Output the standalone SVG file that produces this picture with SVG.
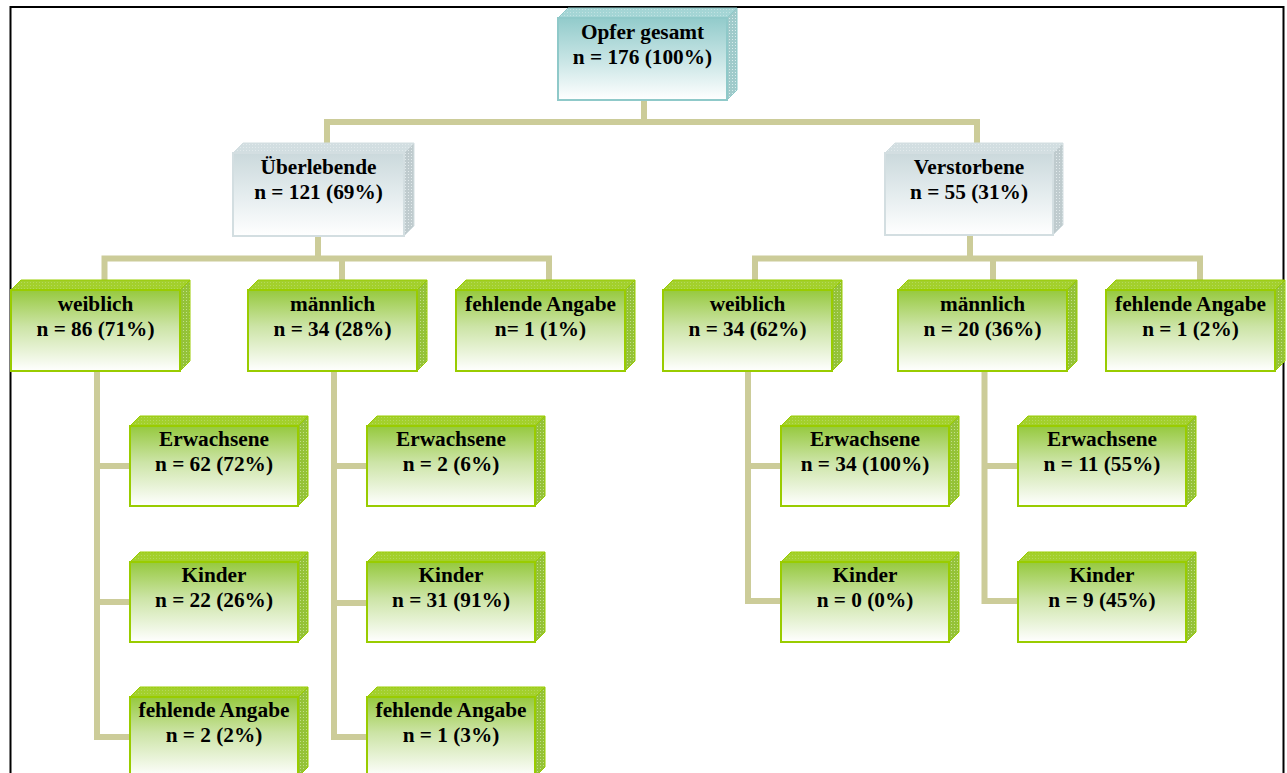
<svg xmlns="http://www.w3.org/2000/svg" width="1287" height="773" viewBox="0 0 1287 773">
<style>
text{font-family:"Liberation Serif","Times New Roman",serif;font-weight:bold;font-size:21.3px;fill:#000;text-anchor:middle}
.con{fill:none;stroke:#cccc99;stroke-width:6;stroke-linejoin:miter;stroke-linecap:butt}
.gF{fill:url(#gG);stroke:#99cc00;stroke-width:2}
.gT{fill:url(#pGT);stroke:#99cc00;stroke-width:1}
.gS{fill:url(#pGS);stroke:#99cc00;stroke-width:1}
.yF{fill:url(#gY);stroke:#d3dee1;stroke-width:2}
.yT{fill:url(#pYT);stroke:#d3dee1;stroke-width:1}
.yS{fill:url(#pYS);stroke:#d3dee1;stroke-width:1}
.tF{fill:url(#gT);stroke:#8fc9c9;stroke-width:2}
.tT{fill:url(#pTT);stroke:#8fc9c9;stroke-width:1}
.tS{fill:url(#pTS);stroke:#8fc9c9;stroke-width:1}
.frame{fill:none;stroke:#000;stroke-width:2}
</style>
<defs>
<linearGradient id="gG" x1="0" y1="0" x2="0" y2="1">
<stop offset="0" stop-color="#96c93e"/><stop offset="0.45" stop-color="#cce4a6"/><stop offset="1" stop-color="#ffffff"/>
</linearGradient>
<linearGradient id="gY" x1="0" y1="0" x2="0" y2="1">
<stop offset="0" stop-color="#cbd9dc"/><stop offset="0.5" stop-color="#e4ecee"/><stop offset="1" stop-color="#ffffff"/>
</linearGradient>
<linearGradient id="gT" x1="0" y1="0" x2="0" y2="1">
<stop offset="0" stop-color="#92cbcb"/><stop offset="0.5" stop-color="#c6e4e4"/><stop offset="1" stop-color="#ffffff"/>
</linearGradient>
<pattern id="pGT" width="3" height="3" patternUnits="userSpaceOnUse"><rect width="3" height="3" fill="#a3d02c"/><rect width="1" height="1" fill="#b4d95a"/></pattern>
<pattern id="pGS" width="3" height="3" patternUnits="userSpaceOnUse"><rect width="3" height="3" fill="#94c238"/><rect width="1" height="1" fill="#c2df88"/></pattern>
<pattern id="pYT" width="3" height="3" patternUnits="userSpaceOnUse"><rect width="3" height="3" fill="#d2dee1"/><rect width="1" height="1" fill="#e2eaec"/></pattern>
<pattern id="pYS" width="3" height="3" patternUnits="userSpaceOnUse"><rect width="3" height="3" fill="#bfcbce"/><rect width="1" height="1" fill="#e2eaec"/></pattern>
<pattern id="pTT" width="3" height="3" patternUnits="userSpaceOnUse"><rect width="3" height="3" fill="#a4d5d5"/><rect width="1" height="1" fill="#c0e2e2"/></pattern>
<pattern id="pTS" width="3" height="3" patternUnits="userSpaceOnUse"><rect width="3" height="3" fill="#9fcaca"/><rect width="1" height="1" fill="#d8ecec"/></pattern>
</defs>
<rect width="1287" height="773" fill="#ffffff"/>
<path class="frame" d="M10.5,773 V7 H1283.5 V773"/>
<g id="connectors">
<path class="con" d="M644,100 V122"/>
<path class="con" d="M327,144 V122 H977 V144"/>
<path class="con" d="M318,236 V258.5"/>
<path class="con" d="M104.5,280 V258.5 H549 V280 M342,258.5 V280"/>
<path class="con" d="M970,236 V258.5"/>
<path class="con" d="M755,280 V258.5 H1200 V280 M993,258.5 V280"/>
<path class="con" d="M97,371 V737 H130 M97,466 H130 M97,602 H130"/>
<path class="con" d="M334,371 V737 H367 M334,466 H367 M334,603 H367"/>
<path class="con" d="M748,371 V601 H781 M748,466 H781"/>
<path class="con" d="M984.5,371 V601 H1018 M984.5,466 H1018"/>
</g>
<g id="n_top">
<polygon class="tT" points="558,18 568,8 737,8 727,18"/>
<polygon class="tS" points="727,18 737,8 737,90 727,100"/>
<rect class="tF" x="558" y="18" width="169" height="82"/>
<text x="642.5" y="39">Opfer gesamt</text><text x="642.5" y="64">n = 176 (100%)</text>
</g>
<g id="n_ueb">
<polygon class="yT" points="233,153 243,143 414,143 404,153"/>
<polygon class="yS" points="404,153 414,143 414,226 404,236"/>
<rect class="yF" x="233" y="153" width="171" height="83"/>
<text x="318.5" y="174">Überlebende</text><text x="318.5" y="199">n = 121 (69%)</text>
</g>
<g id="n_ver">
<polygon class="yT" points="885,153 895,143 1063,143 1053,153"/>
<polygon class="yS" points="1053,153 1063,143 1063,225 1053,235"/>
<rect class="yF" x="885" y="153" width="168" height="82"/>
<text x="969" y="174">Verstorbene</text><text x="969" y="199">n = 55 (31%)</text>
</g>
<g id="n_ueb_w">
<polygon class="gT" points="11,290 21,280 190,280 180,290"/>
<polygon class="gS" points="180,290 190,280 190,361 180,371"/>
<rect class="gF" x="11" y="290" width="169" height="81"/>
<text x="95.5" y="311">weiblich</text><text x="95.5" y="336">n = 86 (71%)</text>
</g>
<g id="n_ueb_m">
<polygon class="gT" points="248,290 258,280 427,280 417,290"/>
<polygon class="gS" points="417,290 427,280 427,361 417,371"/>
<rect class="gF" x="248" y="290" width="169" height="81"/>
<text x="332.5" y="311">männlich</text><text x="332.5" y="336">n = 34 (28%)</text>
</g>
<g id="n_ueb_f">
<polygon class="gT" points="456,290 466,280 635,280 625,290"/>
<polygon class="gS" points="625,290 635,280 635,361 625,371"/>
<rect class="gF" x="456" y="290" width="169" height="81"/>
<text x="540.5" y="311">fehlende Angabe</text><text x="540.5" y="336">n= 1 (1%)</text>
</g>
<g id="n_ver_w">
<polygon class="gT" points="663,290 673,280 842,280 832,290"/>
<polygon class="gS" points="832,290 842,280 842,361 832,371"/>
<rect class="gF" x="663" y="290" width="169" height="81"/>
<text x="747.5" y="311">weiblich</text><text x="747.5" y="336">n = 34 (62%)</text>
</g>
<g id="n_ver_m">
<polygon class="gT" points="898,290 908,280 1077,280 1067,290"/>
<polygon class="gS" points="1067,290 1077,280 1077,361 1067,371"/>
<rect class="gF" x="898" y="290" width="169" height="81"/>
<text x="982.5" y="311">männlich</text><text x="982.5" y="336">n = 20 (36%)</text>
</g>
<g id="n_ver_f">
<polygon class="gT" points="1106,290 1116,280 1285,280 1275,290"/>
<polygon class="gS" points="1275,290 1285,280 1285,361 1275,371"/>
<rect class="gF" x="1106" y="290" width="169" height="81"/>
<text x="1190.5" y="311">fehlende Angabe</text><text x="1190.5" y="336">n = 1 (2%)</text>
</g>
<g id="n_uw_e">
<polygon class="gT" points="130,426 140,416 308,416 298,426"/>
<polygon class="gS" points="298,426 308,416 308,496 298,506"/>
<rect class="gF" x="130" y="426" width="168" height="80"/>
<text x="214" y="446">Erwachsene</text><text x="214" y="471">n = 62 (72%)</text>
</g>
<g id="n_uw_k">
<polygon class="gT" points="130,562 140,552 308,552 298,562"/>
<polygon class="gS" points="298,562 308,552 308,632 298,642"/>
<rect class="gF" x="130" y="562" width="168" height="80"/>
<text x="214" y="582">Kinder</text><text x="214" y="607">n = 22 (26%)</text>
</g>
<g id="n_uw_f">
<polygon class="gT" points="130,697 140,687 308,687 298,697"/>
<polygon class="gS" points="298,697 308,687 308,767 298,777"/>
<rect class="gF" x="130" y="697" width="168" height="80"/>
<text x="214" y="717">fehlende Angabe</text><text x="214" y="742">n = 2 (2%)</text>
</g>
<g id="n_um_e">
<polygon class="gT" points="367,426 377,416 545,416 535,426"/>
<polygon class="gS" points="535,426 545,416 545,496 535,506"/>
<rect class="gF" x="367" y="426" width="168" height="80"/>
<text x="451" y="446">Erwachsene</text><text x="451" y="471">n = 2 (6%)</text>
</g>
<g id="n_um_k">
<polygon class="gT" points="367,562 377,552 545,552 535,562"/>
<polygon class="gS" points="535,562 545,552 545,632 535,642"/>
<rect class="gF" x="367" y="562" width="168" height="80"/>
<text x="451" y="582">Kinder</text><text x="451" y="607">n = 31 (91%)</text>
</g>
<g id="n_um_f">
<polygon class="gT" points="367,697 377,687 545,687 535,697"/>
<polygon class="gS" points="535,697 545,687 545,767 535,777"/>
<rect class="gF" x="367" y="697" width="168" height="80"/>
<text x="451" y="717">fehlende Angabe</text><text x="451" y="742">n = 1 (3%)</text>
</g>
<g id="n_vw_e">
<polygon class="gT" points="781,426 791,416 959,416 949,426"/>
<polygon class="gS" points="949,426 959,416 959,496 949,506"/>
<rect class="gF" x="781" y="426" width="168" height="80"/>
<text x="865" y="446">Erwachsene</text><text x="865" y="471">n = 34 (100%)</text>
</g>
<g id="n_vw_k">
<polygon class="gT" points="781,562 791,552 959,552 949,562"/>
<polygon class="gS" points="949,562 959,552 959,632 949,642"/>
<rect class="gF" x="781" y="562" width="168" height="80"/>
<text x="865" y="582">Kinder</text><text x="865" y="607">n = 0 (0%)</text>
</g>
<g id="n_vm_e">
<polygon class="gT" points="1018,426 1028,416 1196,416 1186,426"/>
<polygon class="gS" points="1186,426 1196,416 1196,496 1186,506"/>
<rect class="gF" x="1018" y="426" width="168" height="80"/>
<text x="1102" y="446">Erwachsene</text><text x="1102" y="471">n = 11 (55%)</text>
</g>
<g id="n_vm_k">
<polygon class="gT" points="1018,562 1028,552 1196,552 1186,562"/>
<polygon class="gS" points="1186,562 1196,552 1196,632 1186,642"/>
<rect class="gF" x="1018" y="562" width="168" height="80"/>
<text x="1102" y="582">Kinder</text><text x="1102" y="607">n = 9 (45%)</text>
</g>
</svg>
